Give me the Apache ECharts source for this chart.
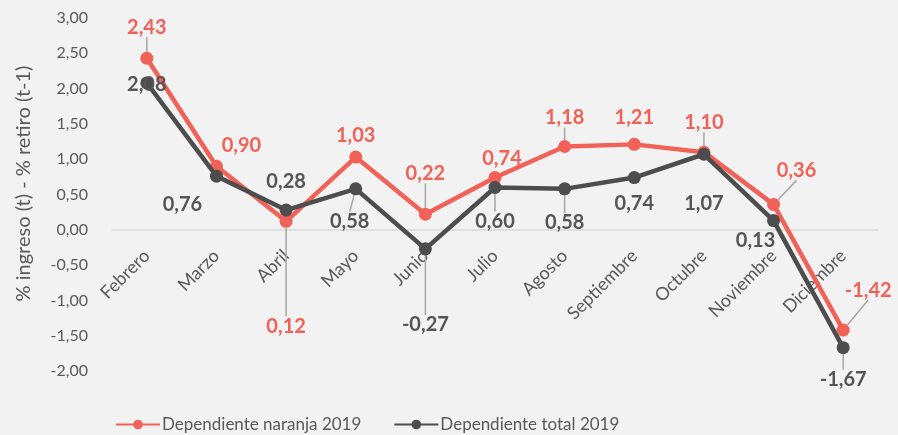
<!DOCTYPE html>
<html><head><meta charset="utf-8">
<script src="https://cdn.jsdelivr.net/npm/echarts@6/dist/echarts.min.js"></script>
<style>html,body{margin:0;padding:0;background:#F2F2F2}#c{width:898px;height:435px}</style>
</head><body><div id="c"></div>
<script>
var categories = ['Febrero','Marzo','Abril','Mayo','Junio','Julio','Agosto','Septiembre','Octubre','Noviembre','Diciembre'];
var naranja = [2.43, 0.90, 0.12, 1.03, 0.22, 0.74, 1.18, 1.21, 1.10, 0.36, -1.42];
var total = [2.08, 0.76, 0.28, 0.58, -0.27, 0.60, 0.58, 0.74, 1.07, 0.13, -1.67];
var seriesNames = ['Dependiente naranja 2019', 'Dependiente total 2019'];

// label placement (styling, not data)
var offN = [[0,-31],[25,-21],[0,105],[0,-22],[0,-41],[7,-19],[0,-29],[0,-27],[0,-30],[23,-34],[25,-40]];
var offT = [[0,2],[-34,28],[0,-28],[-6,33],[0,76],[0,34],[0,34],[0,26],[0,49],[-18,20],[0,32]];
var leadN = [1,0,1,0,1,0,1,0,1,1,1];
var leadT = [0,0,0,1,1,1,1,0,0,0,1];
var offs = [offN, offT];
var leads = [leadN, leadT];

var ORANGE = '#F26157', GRAY = '#4D4D4D', TXT = '#595959';
var FONT = 'Lato, "Open Sans", sans-serif';
var Y_MIN = -2, Y_MAX = 3;
var GRID_TOP = 18, GRID_BOTTOM = 64, H = 435;

function fmt(v){ return v.toFixed(2).replace('.', ','); }
function mk(vals, lead){
  return vals.map(function(v,i){ return {value:v, labelLine:{show:!!lead[i]}}; });
}
// shift category axis up to the zero line
var plotH = H - GRID_TOP - GRID_BOTTOM;
var zeroShift = plotH * (0 - Y_MIN) / (Y_MAX - Y_MIN);

var chart = echarts.init(document.getElementById('c'));
chart.setOption({
  backgroundColor:'#F2F2F2',
  animation:false,
  textStyle:{fontFamily:FONT},
  grid:{left:112, right:20, top:GRID_TOP, bottom:GRID_BOTTOM},
  legend:{
    top:411, left:110, itemWidth:44, itemHeight:12, itemGap:32,
    textStyle:{color:TXT, fontSize:17, fontFamily:FONT, padding:[0,0,0,-3]}
  },
  xAxis:{
    type:'category', data:categories, boundaryGap:true,
    offset:-zeroShift,
    axisLine:{onZero:false, lineStyle:{color:'#D9D9D9', width:1.5}},
    axisTick:{show:false},
    axisLabel:{rotate:45, color:TXT, fontSize:18, fontFamily:FONT, margin:23, interval:0}
  },
  yAxis:{
    type:'value', min:Y_MIN, max:Y_MAX, interval:0.5,
    name:'% ingreso (t) - % retiro (t-1)', nameLocation:'middle', nameGap:78,
    nameTextStyle:{color:TXT, fontSize:20, fontFamily:FONT, padding:[0,0,0,22]},
    axisLine:{show:false}, axisTick:{show:false}, splitLine:{show:false},
    axisLabel:{color:TXT, fontSize:16, fontFamily:FONT, margin:24, formatter:function(v){return fmt(v);}}
  },
  series:[naranja, total].map(function(vals, si){
    var col = si===0 ? ORANGE : GRAY;
    return {
      name:seriesNames[si], type:'line', data:mk(vals, leads[si]),
      z: si===0 ? 2 : 3,
      symbol:'circle', symbolSize:13,
      lineStyle:{color:col, width:4.5}, itemStyle:{color:col},
      label:{show:true, position:'inside', color: si===0 ? ORANGE : '#555555', fontSize:20, fontWeight:'bold', fontFamily:FONT,
             formatter:function(p){return fmt(p.value);}},
      labelLine:{show:false, lineStyle:{color:'#A6A6A6', width:1.5}},
      labelLayout:function(p){ var o = offs[si][p.dataIndex]; return {dx:o[0], dy:o[1]}; }
    };
  })
});
</script></body></html>
